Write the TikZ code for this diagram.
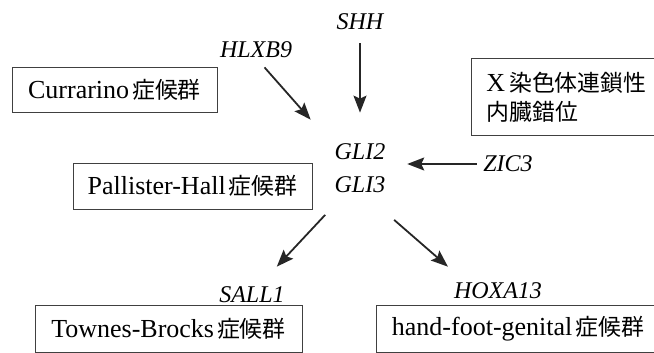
\documentclass[tikz,border=0pt]{standalone}
\usepackage{fontspec}
\setmainfont{Liberation Serif}
\newfontfamily\jp{Noto Sans CJK JP}[Scale=0.88]
\usetikzlibrary{arrows.meta}

\begin{document}
\begin{tikzpicture}[x=1pt,y=-1pt,
  gene/.style={font=\fontsize{24}{33}\selectfont\itshape, inner sep=0pt},
  syndrome/.style={draw=black!75, line width=0.9pt, inner sep=0pt, font=\fontsize{26}{29}\selectfont},
  arr/.style={draw=black!85, line width=1.8pt, -{Stealth[length=17pt,width=13pt,inset=3pt]}}]
\clip (0,0) rectangle (654,353);

% Genes
\node[gene] (shh) at (360,22) {SHH};
\node[gene] (hlxb9) at (256,49.5) {HLXB9};
\node[gene, align=center] (gli) at (360,168) {GLI2\\GLI3};
\node[gene] (zic3) at (508,164) {ZIC3};
\node[gene] (sall1) at (252,295) {SALL1};
\node[gene] (hoxa13) at (498,290.5) {HOXA13};

% Syndromes
\node[syndrome, minimum width=205pt, minimum height=45pt] (currarino) at (114.5,89.5) {Currarino\hspace{3pt}{\jp 症候群}};
\node[syndrome, minimum width=239pt, minimum height=46pt] (pallister) at (192.5,186) {Pallister-Hall\hspace{3pt}{\jp 症候群}};
\node[syndrome, minimum width=267pt, minimum height=47pt] (townes) at (168.5,328.5) {Townes-Brocks\hspace{3pt}{\jp 症候群}};
\node[syndrome, minimum width=284pt, minimum height=47pt] (hfg) at (518,328.5) {hand-foot-genital\hspace{3pt}{\jp 症候群}};
\node[syndrome, anchor=north west, minimum width=200pt, minimum height=77pt, text width=170pt, align=left] (xlinked) at (471,58) {X\hspace{4pt}{\jp 染色体連鎖性}\\{\jp 内臓錯位}};

% Arrows
\draw[arr, shorten <=13pt, shorten >=30.6pt] (shh.south) -- (gli.north);
\draw[arr, shorten <=12.8pt, shorten >=31.4pt] (hlxb9.south) -- ([xshift=-3pt]gli.north west);
\draw[arr, shorten <=6.3pt, shorten >=21.7pt] (zic3.west) -- (zic3.west -| gli.east);
\draw[arr, shorten <=64.2pt, shorten >=27.5pt] ([xshift=9pt]gli.center) -- ([xshift=6pt]sall1.north);
\draw[arr, shorten <=79.1pt, shorten >=23.7pt] (gli.west) -- ([xshift=12pt]hoxa13.north west);
\end{tikzpicture}
\end{document}
